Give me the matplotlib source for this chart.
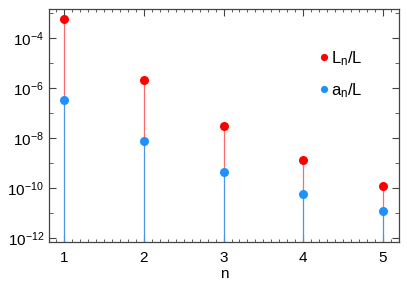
import numpy as np
import matplotlib
matplotlib.use('Agg')
import matplotlib.pyplot as plt
from matplotlib.ticker import FixedLocator, MultipleLocator, NullFormatter

plt.rcParams['font.family'] = ['Liberation Sans', 'DejaVu Sans']
plt.rcParams['mathtext.fontset'] = 'custom'
plt.rcParams['mathtext.rm'] = 'Liberation Sans'
plt.rcParams['mathtext.it'] = 'Liberation Sans:italic'
plt.rcParams['mathtext.default'] = 'regular'

# datos
n = [1, 2, 3, 4, 5]
Ln_L = [5.7e-4, 2.1e-6, 3.2e-8, 1.3e-9, 1.2e-10]
an_L = [3.4e-7, 7.6e-9, 4.6e-10, 5.8e-11, 1.2e-11]
ymajor = [1e-12, 1e-10, 1e-8, 1e-6, 1e-4]
yminor = [1e-11, 1e-9, 1e-7, 1e-5, 1e-3]

red = '#ff0000'
blue = '#1e90ff'
ybase = 10**-12.16

fig = plt.figure(figsize=(4.07, 2.85), dpi=100)
ax = fig.add_axes([0.1204, 0.150, 0.8596, 0.818])

ax.vlines(n, an_L, Ln_L, color='#ff6a6a', lw=0.9, zorder=1)
ax.vlines(n, ybase, an_L, color='#4a94ee', lw=0.9, zorder=2)
ax.plot(n, Ln_L, 'o', color=red, ms=6.5, mec='none', zorder=3, label=r'L$_n$/L')
ax.plot(n, an_L, 'o', color=blue, ms=6.5, mec='none', zorder=3, label=r'a$_n$/L')

ax.set_yscale('log')
ax.set_ylim(10**-12.16, 10**-2.83)
ax.set_xlim(0.81, 5.2)

ax.yaxis.set_major_locator(FixedLocator(ymajor))
ax.yaxis.set_minor_locator(FixedLocator(yminor))
ax.yaxis.set_minor_formatter(NullFormatter())
ax.xaxis.set_major_locator(MultipleLocator(1))
ax.xaxis.set_minor_locator(MultipleLocator(0.1))

ax.tick_params(which='both', direction='in', top=True, right=True, color='#444444', labelsize=11)
ax.tick_params(which='major', length=5, width=0.8)
ax.tick_params(which='minor', length=3, width=0.6)
ax.tick_params(axis='x', which='minor', length=2.5)
ax.tick_params(axis='x', which='major', pad=6)
for s in ax.spines.values():
    s.set_color('#444444')
    s.set_linewidth(0.9)

ax.set_xlabel('n', fontsize=11, labelpad=2)

ax.legend(loc='upper left', bbox_to_anchor=(0.731, 0.893), frameon=False, fontsize=12,
          handlelength=0.5, handletextpad=0.15, labelspacing=0.8, markerscale=0.8)

fig.savefig('out.png', dpi=100)
